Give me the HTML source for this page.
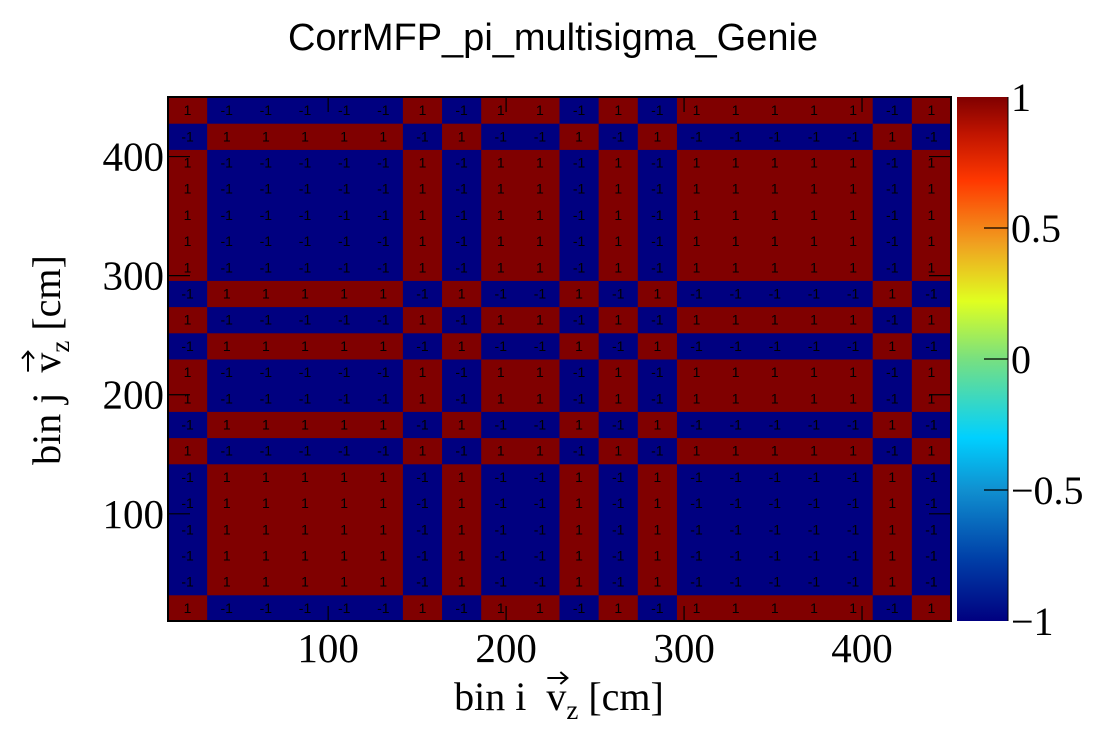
<!DOCTYPE html>
<html><head><meta charset="utf-8"><style>
html,body{margin:0;padding:0;background:#fff;width:1120px;height:740px;overflow:hidden}
svg{display:block}
.serif{font-family:"Liberation Serif",serif}
.sans{font-family:"Liberation Sans",sans-serif}
</style></head><body>
<svg id="chart" width="1120" height="740" viewBox="0 0 1120 740">
<defs>
<linearGradient id="pal" x1="0" y1="1" x2="0" y2="0">
<stop offset="0" stop-color="#000080"/>
<stop offset="0.12" stop-color="#0040a8"/>
<stop offset="0.25" stop-color="#1090d0"/>
<stop offset="0.35" stop-color="#00d0ff"/>
<stop offset="0.5" stop-color="#78e080"/>
<stop offset="0.61" stop-color="#e0ff20"/>
<stop offset="0.72" stop-color="#f0a020"/>
<stop offset="0.84" stop-color="#ff3800"/>
<stop offset="0.93" stop-color="#c01400"/>
<stop offset="1" stop-color="#800000"/>
</linearGradient>
</defs>
<rect x="0" y="0" width="1120" height="740" fill="#fff"/>
<text x="553" y="50" text-anchor="middle" class="sans" font-size="38" fill="#000">CorrMFP_pi_multisigma_Genie</text>
<g id="cells"></g>
<g id="axes"></g>
<rect x="957" y="97" width="51" height="524" fill="url(#pal)"/>
<g id="cbar"></g>
<text id="xt" x="559" y="710" text-anchor="middle" class="serif" font-size="40" xml:space="preserve">bin i  v<tspan font-size="27" dy="9">z</tspan><tspan dy="-9"> [cm]</tspan></text>
<g transform="translate(60,360) rotate(-90)">
<text id="yt" x="0" y="0" text-anchor="middle" class="serif" font-size="40" xml:space="preserve">bin j  v<tspan font-size="27" dy="9">z</tspan><tspan dy="-9"> [cm]</tspan></text>
<g id="yarrow"></g>
</g>
<g id="xarrow"></g>
</svg>
<script>
// Bin edges range and bin count
const xRange = [10, 450];
const yRange = [10, 450];
const nBins = 20;
// Correlation matrix rows, row 0 = lowest bin j (bottom)
const matrix = [
[1,-1,-1,-1,-1,-1,1,-1,1,1,-1,1,-1,1,1,1,1,1,-1,1],
[-1,1,1,1,1,1,-1,1,-1,-1,1,-1,1,-1,-1,-1,-1,-1,1,-1],
[-1,1,1,1,1,1,-1,1,-1,-1,1,-1,1,-1,-1,-1,-1,-1,1,-1],
[-1,1,1,1,1,1,-1,1,-1,-1,1,-1,1,-1,-1,-1,-1,-1,1,-1],
[-1,1,1,1,1,1,-1,1,-1,-1,1,-1,1,-1,-1,-1,-1,-1,1,-1],
[-1,1,1,1,1,1,-1,1,-1,-1,1,-1,1,-1,-1,-1,-1,-1,1,-1],
[1,-1,-1,-1,-1,-1,1,-1,1,1,-1,1,-1,1,1,1,1,1,-1,1],
[-1,1,1,1,1,1,-1,1,-1,-1,1,-1,1,-1,-1,-1,-1,-1,1,-1],
[1,-1,-1,-1,-1,-1,1,-1,1,1,-1,1,-1,1,1,1,1,1,-1,1],
[1,-1,-1,-1,-1,-1,1,-1,1,1,-1,1,-1,1,1,1,1,1,-1,1],
[-1,1,1,1,1,1,-1,1,-1,-1,1,-1,1,-1,-1,-1,-1,-1,1,-1],
[1,-1,-1,-1,-1,-1,1,-1,1,1,-1,1,-1,1,1,1,1,1,-1,1],
[-1,1,1,1,1,1,-1,1,-1,-1,1,-1,1,-1,-1,-1,-1,-1,1,-1],
[1,-1,-1,-1,-1,-1,1,-1,1,1,-1,1,-1,1,1,1,1,1,-1,1],
[1,-1,-1,-1,-1,-1,1,-1,1,1,-1,1,-1,1,1,1,1,1,-1,1],
[1,-1,-1,-1,-1,-1,1,-1,1,1,-1,1,-1,1,1,1,1,1,-1,1],
[1,-1,-1,-1,-1,-1,1,-1,1,1,-1,1,-1,1,1,1,1,1,-1,1],
[1,-1,-1,-1,-1,-1,1,-1,1,1,-1,1,-1,1,1,1,1,1,-1,1],
[-1,1,1,1,1,1,-1,1,-1,-1,1,-1,1,-1,-1,-1,-1,-1,1,-1],
[1,-1,-1,-1,-1,-1,1,-1,1,1,-1,1,-1,1,1,1,1,1,-1,1]
];
const xTicks = [100, 200, 300, 400];
const yTicks = [100, 200, 300, 400];
const zTicks = [-1, -0.5, 0, 0.5, 1];
const zTickLabels = ["\u22121", "\u22120.5", "0", "0.5", "1"];
const zRange = [-1, 1];

const NS = "http://www.w3.org/2000/svg";
const L = 168, R = 951, T = 97, B = 621;
const sx = v => L + (v - xRange[0]) / (xRange[1] - xRange[0]) * (R - L);
const sy = v => B - (v - yRange[0]) / (yRange[1] - yRange[0]) * (B - T);
const sz = v => B - (v - zRange[0]) / (zRange[1] - zRange[0]) * (B - T);
function mk(tag, attrs, parent) {
  const e = document.createElementNS(NS, tag);
  for (const k in attrs) e.setAttribute(k, attrs[k]);
  parent.appendChild(e);
  return e;
}
function color(v) {
  const stops = [[-1,[0,0,128]],[-0.76,[0,64,168]],[-0.5,[16,144,208]],[-0.3,[0,208,255]],[0,[120,224,128]],[0.22,[224,255,32]],[0.44,[240,160,32]],[0.68,[255,56,0]],[0.86,[192,20,0]],[1,[128,0,0]]];
  for (let i = 1; i < stops.length; i++) {
    if (v <= stops[i][0]) {
      const a = stops[i-1], b = stops[i], t = (v - a[0]) / (b[0] - a[0]);
      const c = a[1].map((x, k) => Math.round(x + (b[1][k] - x) * t));
      return `rgb(${c[0]},${c[1]},${c[2]})`;
    }
  }
  return "rgb(128,0,0)";
}
const cells = document.getElementById("cells");
const bw = (xRange[1] - xRange[0]) / nBins, bh = (yRange[1] - yRange[0]) / nBins;
matrix.forEach((row, j) => {
  row.forEach((v, i) => {
    const x0 = sx(xRange[0] + i * bw), x1 = sx(xRange[0] + (i + 1) * bw);
    const y1 = sy(yRange[0] + j * bh), y0 = sy(yRange[0] + (j + 1) * bh);
    const r = mk("rect", {x: x0, y: y0, width: x1 - x0 + 0.5, height: y1 - y0 + 0.5, fill: color(v)}, cells);
    
    
    const t = mk("text", {x: (x0 + x1) / 2, y: (y0 + y1) / 2 + 5, "text-anchor": "middle", "font-size": "14", "class": "sans", fill: "#000"}, cells);
    t.textContent = String(v);
    
    
  });
});
const axes = document.getElementById("axes");
const frame = mk("rect", {x: L, y: T, width: R - L, height: B - T, fill: "none", stroke: "#000", "stroke-width": 2}, axes);


xTicks.forEach(v => {
  const x = sx(v);
  const t1 = mk("line", {x1: x, x2: x, y1: B, y2: B - 15, stroke: "#000", "stroke-width": 1.2}, axes);
  
  
  const t2 = mk("line", {x1: x, x2: x, y1: T, y2: T + 15, stroke: "#000", "stroke-width": 1.2}, axes);
  
  
  const lb = mk("text", {x: x, y: 662, "text-anchor": "middle", "font-size": "41", "class": "serif"}, axes);
  lb.textContent = v;
  
  
});
yTicks.forEach(v => {
  const y = sy(v);
  const t1 = mk("line", {x1: L, x2: L + 22, y1: y, y2: y, stroke: "#000", "stroke-width": 1.2}, axes);
  
  
  const t2 = mk("line", {x1: R, x2: R - 22, y1: y, y2: y, stroke: "#000", "stroke-width": 1.2}, axes);
  
  
  const lb = mk("text", {x: 164, y: y + 14, "text-anchor": "end", "font-size": "41", "class": "serif"}, axes);
  lb.textContent = v;
  
  
});
const cbar = document.getElementById("cbar");
const cl = mk("line", {x1: 1008, x2: 1008, y1: T, y2: B, stroke: "#000", "stroke-width": 1}, cbar);


zTicks.forEach((v, k) => {
  const y = sz(v);
  if (v > -1 && v < 1) {
    const t = mk("line", {x1: 984, x2: 1008, y1: y, y2: y, stroke: "#000", "stroke-width": 1.2}, cbar);
    
    
  }
  const lb = mk("text", {x: 1011, y: y + 14, "font-size": "40", "class": "serif"}, cbar);
  lb.textContent = zTickLabels[k];
  
  
});
// vector arrows over the "v" in axis titles
function arrow(textId, groupId, baseY) {
  const t = document.getElementById(textId);
  const s = t.textContent;
  const idx = s.indexOf("v");
  let x0, x1;
  try { x0 = t.getStartPositionOfChar(idx).x; x1 = t.getEndPositionOfChar(idx).x; } catch (e) { return; }
  const g = document.getElementById(groupId);
  const y = baseY - 32;
  const p = mk("path", {d: `M${x0+1},${y} L${x1+1},${y} M${x1-6},${y-6} L${x1+1},${y} L${x1-6},${y+6}`, stroke: "#000", "stroke-width": 2, fill: "none"}, g);
  
  
}
arrow("xt", "xarrow", 710);
arrow("yt", "yarrow", 0);
</script>
</body></html>
